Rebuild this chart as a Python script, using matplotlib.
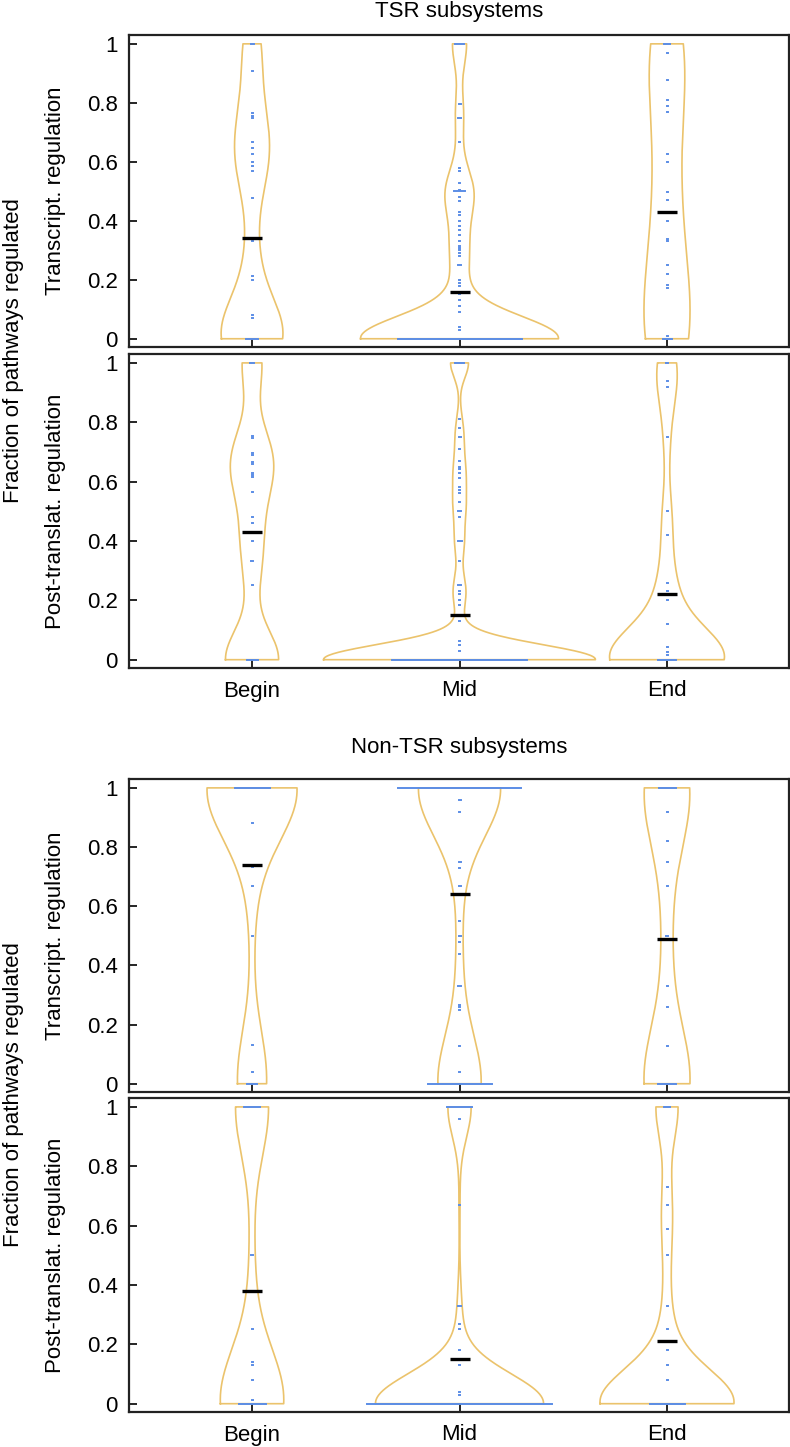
import numpy as np
import matplotlib
matplotlib.use("Agg")
import matplotlib.pyplot as plt

plt.rcParams['font.family'] = ['Liberation Sans', 'DejaVu Sans']

# ---------------- data ----------------
categories = ["Begin", "Mid", "End"]
group_titles = ["TSR subsystems", "Non-TSR subsystems"]
panel_ylabels = ["Transcript. regulation", "Post-translat. regulation"]
outer_ylabel = "Fraction of pathways regulated"
ytick_vals = [0, 0.2, 0.4, 0.6, 0.8, 1]
ytick_labels = ["0", "0.2", "0.4", "0.6", "0.8", "1"]

# TSR subsystems, transcriptional regulation
tsr_tx_begin_vals = [0, 0.07, 0.081, 0.20, 0.212, 0.331, 0.477, 0.568, 0.587, 0.598, 0.628, 0.648, 0.668, 0.75, 0.757, 0.766, 0.908, 1]
tsr_tx_begin_n    = [12, 1, 1, 1, 1, 1, 1, 1, 1, 1, 1, 1, 1, 1, 1, 1, 1, 3]
tsr_tx_mid_vals = [0, 0.03, 0.04, 0.09, 0.11, 0.13, 0.153, 0.18, 0.19, 0.20, 0.25, 0.28, 0.29, 0.30, 0.307, 0.313, 0.33, 0.351, 0.369, 0.381, 0.40, 0.42, 0.429, 0.468, 0.479, 0.50, 0.505, 0.529, 0.57, 0.58, 0.668, 0.749, 0.797, 1]
tsr_tx_mid_n    = [124, 1, 1, 1, 1, 1, 1, 1, 1, 1, 3, 1, 1, 1, 1, 1, 1, 1, 1, 1, 1, 1, 1, 1, 1, 11, 1, 1, 1, 1, 1, 3, 2, 9]
tsr_tx_end_vals = [0, 0.009, 0.171, 0.181, 0.22, 0.249, 0.33, 0.339, 0.40, 0.47, 0.499, 0.598, 0.628, 0.768, 0.788, 0.809, 0.878, 0.968, 1]
tsr_tx_end_n    = [9, 1, 1, 1, 1, 1, 1, 1, 1, 1, 1, 1, 1, 1, 1, 1, 1, 1, 6]
tsr_tx_means = [0.34, 0.159, 0.429]

# TSR subsystems, post-translational regulation
tsr_pt_begin_vals = [0, 0.25, 0.331, 0.401, 0.461, 0.481, 0.564, 0.614, 0.622, 0.63, 0.66, 0.667, 0.689, 0.698, 0.746, 0.755, 1]
tsr_pt_begin_n    = [11, 1, 2, 1, 1, 1, 1, 1, 1, 1, 1, 1, 1, 1, 1, 1, 4]
tsr_pt_mid_vals = [0, 0.03, 0.051, 0.062, 0.132, 0.183, 0.20, 0.22, 0.231, 0.25, 0.331, 0.40, 0.481, 0.50, 0.53, 0.56, 0.572, 0.583, 0.611, 0.63, 0.643, 0.65, 0.671, 0.71, 0.75, 0.78, 0.81, 1]
tsr_pt_mid_n    = [135, 1, 1, 1, 1, 1, 1, 1, 1, 3, 1, 4, 1, 3, 1, 1, 1, 1, 1, 1, 1, 1, 1, 1, 2, 1, 1, 9]
tsr_pt_end_vals = [0, 0.016, 0.027, 0.042, 0.12, 0.20, 0.233, 0.26, 0.42, 0.50, 0.75, 0.92, 0.94, 1]
tsr_pt_end_n    = [18, 1, 1, 1, 1, 1, 1, 1, 1, 1, 1, 1, 1, 2]
tsr_pt_means = [0.431, 0.152, 0.22]

# Non-TSR subsystems, transcriptional regulation
non_tx_begin_vals = [0, 0.038, 0.13, 0.498, 0.67, 0.733, 0.88, 1]
non_tx_begin_n    = [10, 1, 1, 1, 1, 1, 1, 35]
non_tx_mid_vals = [0, 0.038, 0.129, 0.25, 0.259, 0.267, 0.329, 0.44, 0.48, 0.50, 0.549, 0.67, 0.73, 0.75, 0.92, 0.96, 1]
non_tx_mid_n    = [64, 1, 1, 1, 1, 1, 3, 1, 1, 2, 1, 2, 1, 2, 1, 2, 123]
non_tx_end_vals = [0, 0.129, 0.259, 0.329, 0.50, 0.67, 0.75, 0.82, 0.92, 1]
non_tx_end_n    = [18, 1, 1, 1, 2, 1, 1, 1, 1, 17]
non_tx_means = [0.738, 0.64, 0.489]

# Non-TSR subsystems, post-translational regulation
non_pt_begin_vals = [0, 0.011, 0.079, 0.129, 0.139, 0.25, 0.50, 1]
non_pt_begin_n    = [27, 1, 1, 1, 1, 1, 2, 16]
non_pt_mid_vals = [0, 0.03, 0.039, 0.13, 0.18, 0.25, 0.27, 0.33, 0.669, 0.958, 1]
non_pt_mid_n    = [185, 1, 1, 1, 1, 1, 1, 3, 1, 1, 25]
non_pt_end_vals = [0, 0.079, 0.13, 0.18, 0.25, 0.33, 0.50, 0.59, 0.67, 0.729, 1]
non_pt_end_n    = [35, 1, 1, 1, 1, 1, 1, 1, 1, 1, 6]
non_pt_means = [0.38, 0.15, 0.21]

panels = [
    [(tsr_tx_begin_vals, tsr_tx_begin_n), (tsr_tx_mid_vals, tsr_tx_mid_n), (tsr_tx_end_vals, tsr_tx_end_n), tsr_tx_means],
    [(tsr_pt_begin_vals, tsr_pt_begin_n), (tsr_pt_mid_vals, tsr_pt_mid_n), (tsr_pt_end_vals, tsr_pt_end_n), tsr_pt_means],
    [(non_tx_begin_vals, non_tx_begin_n), (non_tx_mid_vals, non_tx_mid_n), (non_tx_end_vals, non_tx_end_n), non_tx_means],
    [(non_pt_begin_vals, non_pt_begin_n), (non_pt_mid_vals, non_pt_mid_n), (non_pt_end_vals, non_pt_end_n), non_pt_means],
]

# ---------------- style ----------------
W, H = 790, 1447
DPI = 100
bean_color = "#EBC36C"
point_color = "#5B8DE6"
mean_color = "black"
# kernel bandwidths (per bean) and maximal half-widths of the beans (x-units)
bandwidths = [[0.12, 0.075, 0.20],
              [0.10, 0.05, 0.10],
              [0.17, 0.16, 0.18],
              [0.17, 0.10, 0.11]]
bean_maxwidth = [[0.149, 0.477, 0.111],
                 [0.128, 0.655, 0.277],
                 [0.217, 0.198, 0.111],
                 [0.153, 0.405, 0.323]]
xlim = (0.407, 3.588)
ylim = (-0.028, 1.03)
px_unit = (xlim[1] - xlim[0]) / 660.0   # x-units per pixel
panel_px = [(35, 347), (354, 668), (779, 1092), (1098, 1412)]  # top, bottom
ax_left, ax_right = 129, 789
FS = 16

fig = plt.figure(figsize=(W / DPI, H / DPI), dpi=DPI)

for p, (b0, b1, b2, means) in enumerate(panels):
    top, bot = panel_px[p]
    ax = fig.add_axes([ax_left / W, 1 - bot / H, (ax_right - ax_left) / W, (bot - top) / H])
    for i, (vals, ns) in enumerate([b0, b1, b2]):
        pos = i + 1
        h = bandwidths[p][i]
        v = np.asarray(vals, float)
        n = np.asarray(ns, float)
        grid = np.linspace(v.min(), v.max(), 400)
        dens = (n[None, :] * np.exp(-(grid[:, None] - v[None, :]) ** 2 / (2 * h * h))).sum(axis=1)
        wid = dens / dens.max() * bean_maxwidth[p][i]
        xs = np.concatenate([pos - wid, (pos + wid)[::-1], [pos - wid[0]]])
        ys = np.concatenate([grid, grid[::-1], [grid[0]]])
        ax.plot(xs, ys, color=bean_color, lw=1.2, zorder=2, solid_joinstyle='round')
        # bean lines (stacked duplicates)
        for val, cnt in zip(v, n):
            half = cnt * px_unit / 2
            ax.plot([pos - half, pos + half], [val, val], color=point_color, lw=1.4,
                    solid_capstyle='projecting', zorder=3)
        # mean line
        ax.plot([pos - 10 * px_unit, pos + 10 * px_unit], [means[i], means[i]],
                color=mean_color, lw=2.4, solid_capstyle='butt', zorder=4)
    ax.set_xlim(*xlim)
    ax.set_ylim(*ylim)
    ax.set_yticks(ytick_vals)
    ax.set_yticklabels(ytick_labels)
    ax.set_xticks([1, 2, 3])
    if p in (1, 3):
        ax.set_xticklabels(categories)
    else:
        ax.set_xticklabels([])
    ax.tick_params(axis='both', direction='in', length=6, width=1.2, labelsize=FS,
                   colors='black', top=False, right=False)
    ax.tick_params(axis='y', pad=8)
    ax.tick_params(axis='x', pad=9)
    for s in ax.spines.values():
        s.set_linewidth(1.6)
        s.set_color('#222222')
    fig.text(55 / W, 1 - (top + bot) / 2 / H, panel_ylabels[p % 2], rotation=90,
             ha='center', va='center', fontsize=FS)

# group titles and outer labels
fig.text(459 / W, 1 - 12 / H, group_titles[0], ha='center', va='center', fontsize=FS)
fig.text(459 / W, 1 - 748 / H, group_titles[1], ha='center', va='center', fontsize=FS)
fig.text(14 / W, 1 - 351 / H, outer_ylabel, rotation=90, ha='center', va='center', fontsize=FS)
fig.text(14 / W, 1 - 1095 / H, outer_ylabel, rotation=90, ha='center', va='center', fontsize=FS)

fig.savefig("out.png", dpi=DPI)
